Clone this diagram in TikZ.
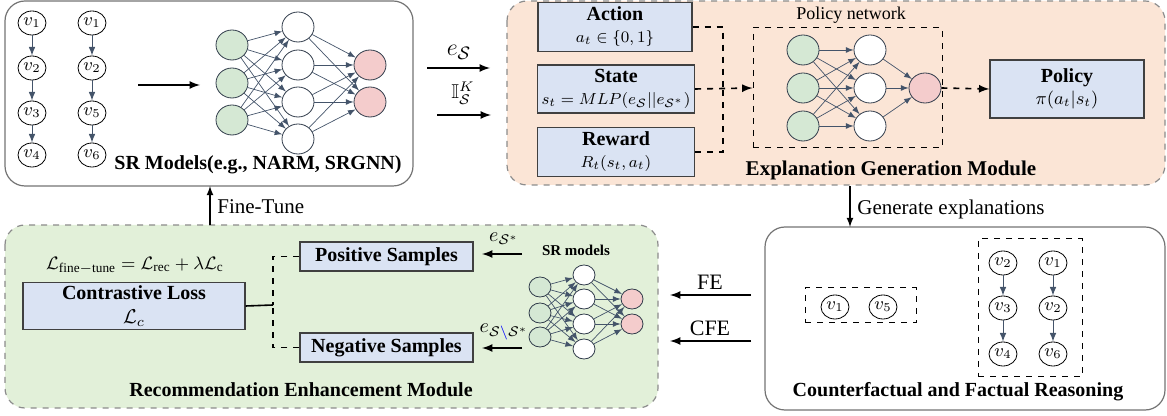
\documentclass[tikz,border=0pt]{standalone}
\RequirePackage{amsmath}
\usepackage{amsfonts}
\usepackage{amssymb}
\usepackage{fontspec}
\setmainfont{Liberation Serif}
\usepackage{tikz}
\usetikzlibrary{calc,arrows,shapes.geometric}

\definecolor{nnblue}{HTML}{44546A}
\definecolor{nngreen}{HTML}{D5E8D4}
\definecolor{nnred}{HTML}{F4CCCC}
\definecolor{boxblue}{HTML}{DAE3F3}
\definecolor{egmfill}{HTML}{FBE5D6}
\definecolor{remfill}{HTML}{E2F0D9}

\tikzset{
  item/.style={draw,ellipse,minimum width=14pt,minimum height=12pt,inner sep=0pt,font=\fontsize{9}{10}\selectfont},
  seq/.style={draw=nnblue,-latex,line width=0.5pt},
  neuron/.style={draw=nnblue!70!black,ellipse,minimum width=16pt,minimum height=15pt,inner sep=0pt},
  sneuron/.style={draw=nnblue!70!black,ellipse,minimum width=11pt,minimum height=10pt,inner sep=0pt},
  wire/.style={draw=nnblue,-latex,line width=0.35pt},
  bluebox/.style={draw=black!75,fill=boxblue,line width=0.6pt,align=center,inner sep=1pt},
  module/.style={rounded corners=10pt,line width=0.6pt},
  link/.style={dashed,line width=0.8pt},
  lbl/.style={inner sep=0.5pt},
  title/.style={inner sep=0.5pt,font=\fontsize{10}{12}\selectfont\bfseries},
  plain/.style={inner sep=0.5pt,font=\fontsize{10.5}{12}\selectfont}
}

\begin{document}
\begin{tikzpicture}[x=0.5pt,y=-0.5pt]
  \useasboundingbox (0,0) rectangle (1167,416);
  % module backgrounds
  \draw[module,draw=black!55] (5,1) rectangle (413,186);
  \draw[module,dashed,draw=black!45,fill=egmfill] (507,1) rectangle (1165,185);
  \draw[module,dashed,draw=black!45,fill=remfill] (5,225) rectangle (658,408);
  \draw[module,draw=black!55] (765,227) rectangle (1165,410);

  % sessions
  \node[item] (a1) at (32,23) {$v_1$};
  \node[item] (a2) at (32,68) {$v_2$};
  \node[item] (a3) at (32,113) {$v_3$};
  \node[item] (a4) at (32,155) {$v_4$};
  \node[item] (b1) at (92,23) {$v_1$};
  \node[item] (b2) at (92,68) {$v_2$};
  \node[item] (b3) at (92,113) {$v_5$};
  \node[item] (b4) at (92,155) {$v_6$};
  \draw[seq] (a1)--(a2);
  \draw[seq] (a2)--(a3);
  \draw[seq] (a3)--(a4);
  \draw[seq] (b1)--(b2);
  \draw[seq] (b2)--(b3);
  \draw[seq] (b3)--(b4);
  \coordinate (m0) at (138,85);
  \coordinate (m1) at (200,85);
  \draw[-latex,line width=0.8pt] (m0)--(m1);

  % SR model
  \node[neuron,fill=nngreen] (i1) at (232,45) {};
  \node[neuron,fill=nngreen] (i2) at (232,83) {};
  \node[neuron,fill=nngreen] (i3) at (232,120) {};
  \node[neuron,fill=white] (h1) at (298,27) {};
  \node[neuron,fill=white] (h2) at (298,65) {};
  \node[neuron,fill=white] (h3) at (298,102) {};
  \node[neuron,fill=white] (h4) at (298,139) {};
  \node[neuron,fill=nnred] (o1) at (370,65) {};
  \node[neuron,fill=nnred] (o2) at (370,102) {};
  \foreach \i in {1,2,3} \foreach \j in {1,2,3,4} \draw[wire] (i\i)--(h\j);
  \foreach \j in {1,2,3,4} \foreach \k in {1,2} \draw[wire] (h\j)--(o\k);
  \node[title] (srt) at (258,165) {SR Models(e.g., NARM, SRGNN)};

  % inputs of the explanation module
  \coordinate (es0) at (427,68);
  \coordinate (es1) at (490,68);
  \coordinate (ik0) at (437,115);
  \coordinate (ik1) at (491,115);
  \draw[-latex,line width=0.8pt] (es0)--(es1);
  \draw[-latex,line width=0.8pt] (ik0)--(ik1);
  \node[lbl] (esl) at (459,52) {\fontsize{13}{14}\selectfont$e_{\mathcal{S}}$};
  \node[lbl] (ikl) at (463,93) {$\mathbb{I}_{\mathcal{S}}^{K}$};

  % explanation generation module
  \node[bluebox,minimum width=77pt,minimum height=24.5pt] (act) at (615,27)
    {\textbf{Action}\\[-1pt]\fontsize{8}{9}\selectfont$a_t\in\{0,1\}$};
  \node[bluebox,minimum width=78.5pt,minimum height=24pt] (sta) at (616,89)
    {\textbf{State}\\[-1pt]\fontsize{8}{9}\selectfont$s_t=MLP(e_{\mathcal{S}}||e_{\mathcal{S}^*})$};
  \node[bluebox,minimum width=78.5pt,minimum height=24.5pt] (rew) at (616,152)
    {\textbf{Reward}\\[-1pt]\fontsize{8}{9}\selectfont$R_t(s_t,a_t)$};
  \node[draw,dashed,line width=0.5pt,minimum width=94.5pt,minimum height=60pt] (pn) at (847.5,88) {};
  \node[lbl,font=\fontsize{9}{10}\selectfont] (pnl) at (851,15) {Policy network};
  \coordinate (jx) at (723,89);
  \draw[link] (act.east)-|(jx);
  \draw[link] (rew.east)-|(jx);
  \draw[link,-latex] (sta.east)--(pn.west);

  \node[neuron,fill=nngreen] (p1) at (803,50) {};
  \node[neuron,fill=nngreen] (p2) at (803,88) {};
  \node[neuron,fill=nngreen] (p3) at (803,126) {};
  \node[neuron,fill=white] (q1) at (870,50) {};
  \node[neuron,fill=white] (q2) at (870,88) {};
  \node[neuron,fill=white] (q3) at (870,126) {};
  \node[neuron,fill=nnred] (pr) at (925,88) {};
  \foreach \i in {1,2,3} \foreach \j in {1,2,3} \draw[wire] (p\i)--(q\j);
  \foreach \j in {1,2,3} \draw[wire] (q\j)--(pr);

  \node[bluebox,minimum width=77pt,minimum height=29pt] (pol) at (1067,89)
    {\textbf{Policy}\\[-1pt]\fontsize{9}{10}\selectfont$\pi(a_t|s_t)$};
  \draw[link,-latex] (pr.east)--(pol.west);
  \node[title,font=\fontsize{10.5}{12}\selectfont\bfseries] (egt) at (891,170) {Explanation Generation Module};

  % links between modules
  \coordinate (ge0) at (850,186);
  \coordinate (ge1) at (850,227);
  \draw[-latex,line width=0.6pt] (ge0)--(ge1);
  \node[plain,anchor=west] (gel) at (856,209) {Generate explanations};
  \coordinate (ft0) at (210,225);
  \coordinate (ft1) at (210,186);
  \draw[-latex,line width=0.6pt] (ft0)--(ft1);
  \node[plain,anchor=west] (ftl) at (216,207) {Fine-Tune};

  % recommendation enhancement module
  \node[lbl] (fml) at (135,266) {\fontsize{9.5}{11}\selectfont$\mathcal{L}_{\mathrm{fine-tune}}=\mathcal{L}_{\mathrm{rec}}+\lambda\mathcal{L}_{\mathrm{c}}$};
  \node[bluebox,minimum width=111pt,minimum height=23.5pt] (cl) at (134,306)
    {\textbf{Contrastive Loss}\\[0pt]$\mathcal{L}_c$};
  \node[bluebox,minimum width=86.5pt,minimum height=14.5pt] (pos) at (386.5,256.5) {\textbf{Positive Samples}};
  \node[bluebox,minimum width=86.5pt,minimum height=14.5pt] (neg) at (386.5,347.5) {\textbf{Negative Samples}};
  \coordinate (jb) at (273,305);
  \draw[line width=0.8pt] (cl.east)--(jb);
  \draw[link] (pos.west)-|(jb);
  \draw[link] (neg.west)-|(jb);

  \coordinate (sp0) at (522,254);
  \coordinate (sp1) at (482,254);
  \coordinate (sn0) at (522,348);
  \coordinate (sn1) at (482,348);
  \draw[-latex,line width=0.8pt] (sp0)--(sp1);
  \draw[-latex,line width=0.8pt] (sn0)--(sn1);
  \node[lbl] (spl) at (504,239) {$e_{\mathcal{S}^*}$};
  \node[lbl] (snl) at (504,332) {$e_{\mathcal{S}\textcolor{blue}{\backslash}\mathcal{S}^*}$};
  \node[lbl,font=\fontsize{7.5}{9}\selectfont\bfseries] (srm) at (576,250) {SR models};

  \node[sneuron,fill=nngreen] (s1) at (540,287) {};
  \node[sneuron,fill=nngreen] (s2) at (540,313) {};
  \node[sneuron,fill=nngreen] (s3) at (540,337) {};
  \node[sneuron,fill=white] (t1) at (584,275) {};
  \node[sneuron,fill=white] (t2) at (584,299) {};
  \node[sneuron,fill=white] (t3) at (584,324) {};
  \node[sneuron,fill=white] (t4) at (584,349) {};
  \node[sneuron,fill=nnred] (u1) at (632,299) {};
  \node[sneuron,fill=nnred] (u2) at (632,324) {};
  \foreach \i in {1,2,3} \foreach \j in {1,2,3,4} \draw[wire] (s\i)--(t\j);
  \foreach \j in {1,2,3,4} \foreach \k in {1,2} \draw[wire] (t\j)--(u\k);
  \node[title] (ret) at (301,390) {Recommendation Enhancement Module};

  % explanations back to the recommender
  \coordinate (fe0) at (751,295);
  \coordinate (fe1) at (670,295);
  \coordinate (cf0) at (751,341);
  \coordinate (cf1) at (670,341);
  \draw[-latex,line width=0.8pt] (fe0)--(fe1);
  \draw[-latex,line width=0.8pt] (cf0)--(cf1);
  \node[lbl,font=\fontsize{11}{12}\selectfont] (fel) at (710,282) {FE};
  \node[lbl,font=\fontsize{11}{12}\selectfont] (cfl) at (710,328) {CFE};

  % counterfactual and factual reasoning
  \node[draw,dashed,line width=0.5pt,minimum width=55.5pt,minimum height=17.5pt] (fb) at (860.5,305.5) {};
  \node[item] (c1) at (835,307) {$v_1$};
  \node[item] (c2) at (883,307) {$v_5$};
  \node[draw,dashed,line width=0.5pt,minimum width=52pt,minimum height=69pt] (cb) at (1030,308) {};
  \node[item] (d1) at (1003,263) {$v_2$};
  \node[item] (d2) at (1003,308) {$v_3$};
  \node[item] (d3) at (1003,354) {$v_4$};
  \node[item] (e1) at (1053,263) {$v_1$};
  \node[item] (e2) at (1053,308) {$v_2$};
  \node[item] (e3) at (1053,354) {$v_6$};
  \draw[seq] (d1)--(d2);
  \draw[seq] (d2)--(d3);
  \draw[seq] (e1)--(e2);
  \draw[seq] (e2)--(e3);
  \node[title] (cft) at (958,392) {Counterfactual and Factual Reasoning};
\end{tikzpicture}
\end{document}
